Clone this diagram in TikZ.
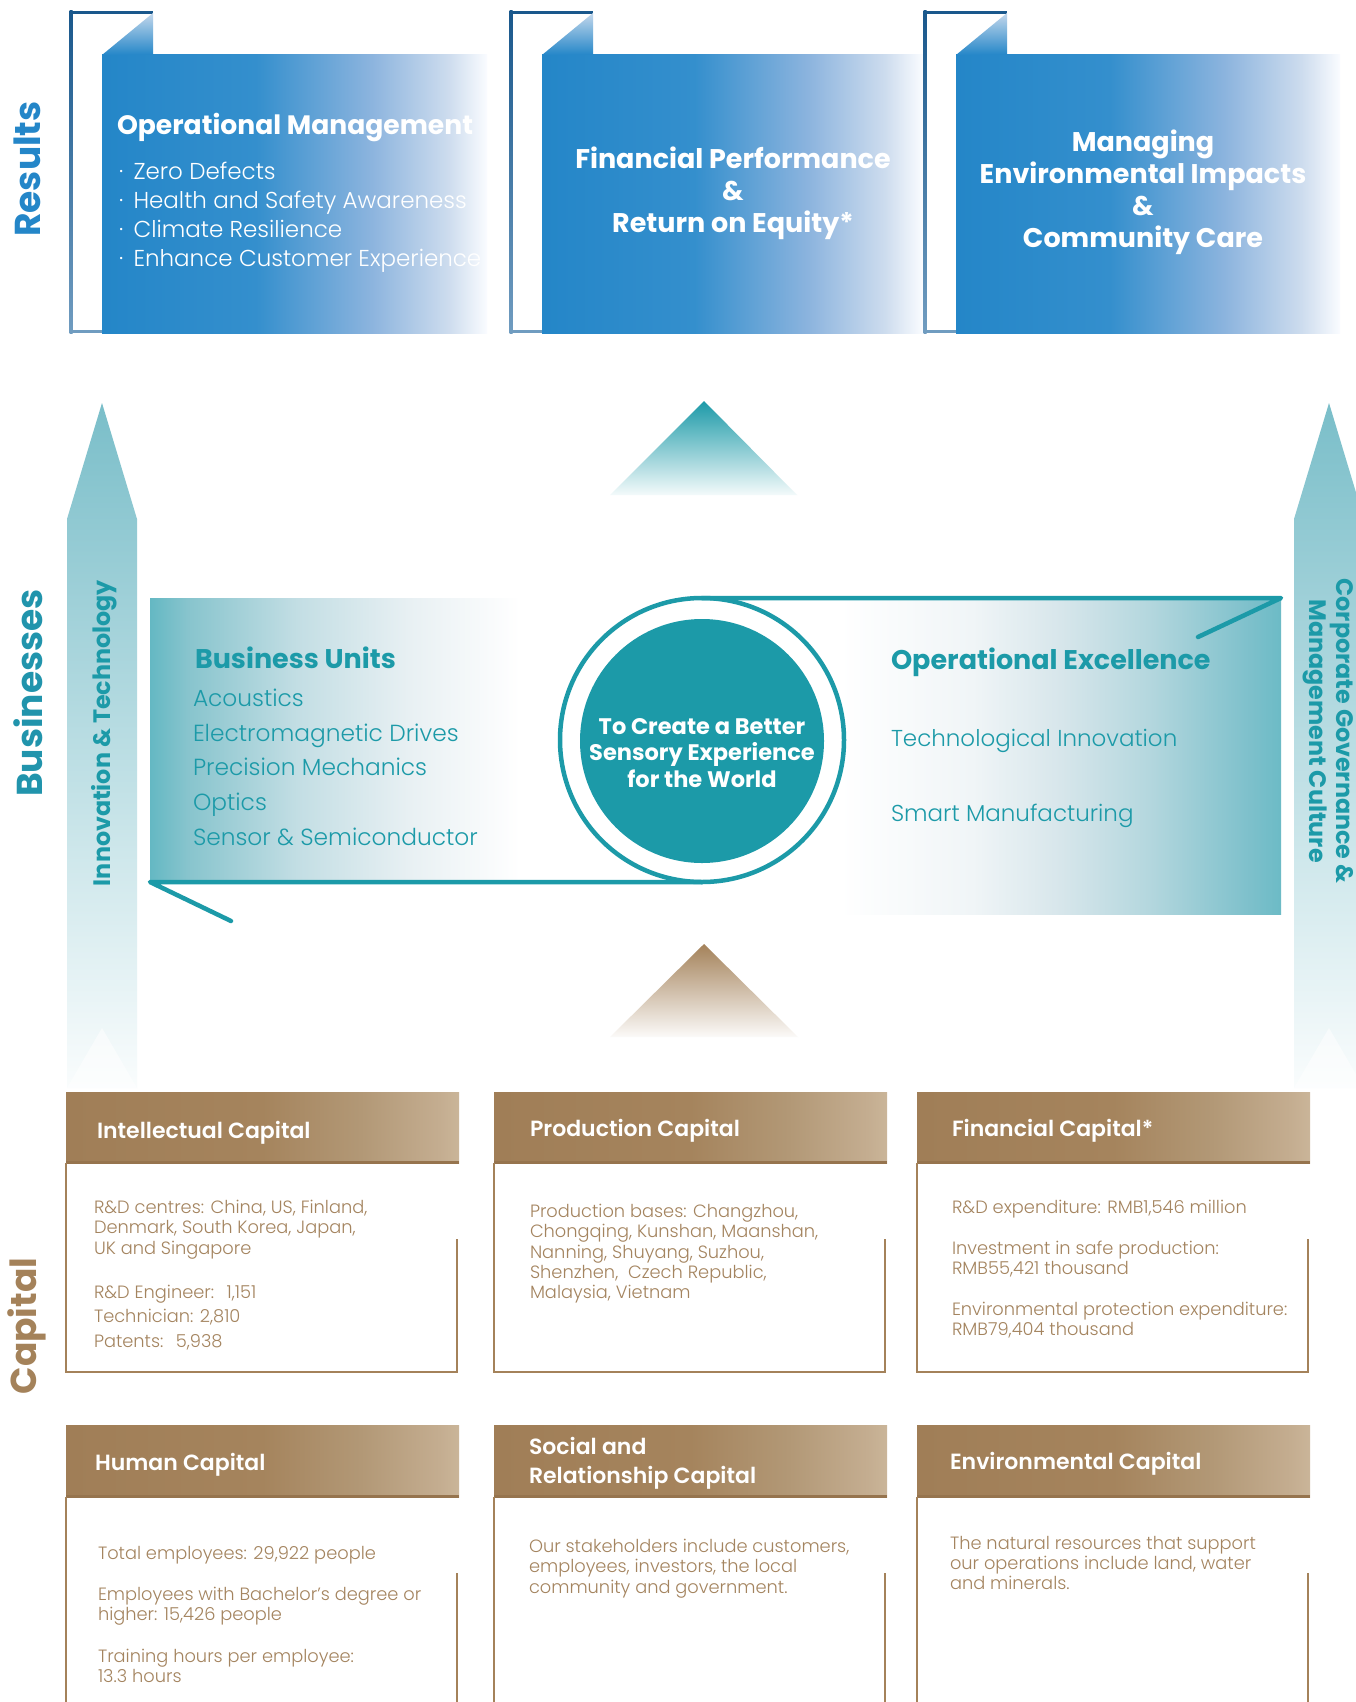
\documentclass[tikz,border=0pt]{standalone}
\usepackage{fontspec}
\setmainfont{Poppins}
\IfFontExistsTF{Poppins Light}{\newfontfamily\lightfont{Poppins Light}}{\newfontfamily\lightfont{Poppins}}
\IfFontExistsTF{Poppins SemiBold}{\newfontfamily\semifont{Poppins SemiBold}}{\newcommand\semifont{\bfseries}}

\definecolor{resblue}{RGB}{36,134,200}
\definecolor{framedark}{RGB}{26,88,140}
\definecolor{framelight}{RGB}{112,156,192}
\definecolor{cornerlight}{RGB}{196,216,236}
\definecolor{tealmain}{RGB}{28,154,168}
\definecolor{arrowteal}{RGB}{122,190,201}
\definecolor{brownmain}{RGB}{164,130,90}
\definecolor{brownline}{RGB}{150,116,78}
\definecolor{browntext}{RGB}{164,132,95}
\definecolor{busblue}{RGB}{33,148,172}

% blue result panels: solid on the left, fading to white on the right
\pgfdeclarehorizontalshading{bluefade}{100bp}{%
  color(0bp)=(resblue); color(25bp)=(resblue);
  color(45bp)=(rgb,255:red,52;green,143;blue,205);
  color(60bp)=(rgb,255:red,140;green,180;blue,222);
  color(70bp)=(rgb,255:red,205;green,220;blue,238);
  color(75bp)=(rgb,255:red,250;green,252;blue,255);
  color(100bp)=(rgb,255:red,250;green,252;blue,255)}
% brown capital headers
\pgfdeclarehorizontalshading{brownfade}{100bp}{%
  color(0bp)=(rgb,255:red,160;green,126;blue,87); color(25bp)=(rgb,255:red,160;green,126;blue,87);
  color(50bp)=(rgb,255:red,165;green,132;blue,93);
  color(62.5bp)=(rgb,255:red,178;green,152;blue,118);
  color(72.5bp)=(rgb,255:red,196;green,173;blue,144);
  color(75bp)=(rgb,255:red,202;green,181;blue,153);
  color(100bp)=(rgb,255:red,202;green,181;blue,153)}
% teal band, left half (teal to white) and right half (white to teal)
\pgfdeclarehorizontalshading{tealleft}{100bp}{%
  color(0bp)=(rgb,255:red,100;green,184;blue,195); color(25bp)=(rgb,255:red,100;green,184;blue,195);
  color(30bp)=(rgb,255:red,135;green,196;blue,205);
  color(45bp)=(rgb,255:red,195;green,222;blue,228);
  color(60bp)=(rgb,255:red,232;green,240;blue,243);
  color(75bp)=(white); color(100bp)=(white)}
\pgfdeclarehorizontalshading{tealright}{100bp}{%
  color(0bp)=(white); color(25bp)=(white);
  color(40bp)=(rgb,255:red,240;green,245;blue,247);
  color(50bp)=(rgb,255:red,215;green,230;blue,235);
  color(60bp)=(rgb,255:red,180;green,215;blue,222);
  color(71.5bp)=(rgb,255:red,125;green,192;blue,203);
  color(75bp)=(rgb,255:red,108;green,187;blue,198);
  color(100bp)=(rgb,255:red,108;green,187;blue,198)}

\tikzset{
  restitle/.style={text=white, font=\bfseries\fontsize{27}{32}\selectfont},
  resitem/.style={text=white, font=\lightfont\fontsize{23}{29}\selectfont, align=left, anchor=north west},
  sidelabel/.style={font=\bfseries\fontsize{36}{40}\selectfont},
  pillar/.style={text=tealmain, font=\bfseries\fontsize{23.8}{26.5}\selectfont, align=center},
  unithead/.style={text=tealmain, font=\bfseries\fontsize{27}{30}\selectfont, anchor=west},
  unititem/.style={text=tealmain, font=\lightfont\fontsize{23.3}{34.7}\selectfont, align=left, anchor=north west},
  unitline/.style={text=tealmain, font=\lightfont\fontsize{23}{26}\selectfont, anchor=west},
  caphead/.style={text=white, font=\semifont\fontsize{22}{29}\selectfont, anchor=west, align=left},
  capbody/.style={text=browntext, font=\lightfont\fontsize{17.8}{20.3}\selectfont, align=left, anchor=north west},
  capframe/.style={draw=brownmain, line width=2.6pt},
  band/.style={draw=tealmain, line width=4.5pt, line cap=round, line join=round},
  pillarshaft/.style={top color=arrowteal, bottom color=white!96!arrowteal},
}
\newcommand\resbullet{·\hspace{0.45em}}

\begin{document}
\begin{tikzpicture}[x=1pt,y=-1pt, every node/.style={inner sep=0pt, outer sep=0pt}]
\useasboundingbox (0,0) rectangle (1356,1702);
\fill[white] (0,0) rectangle (1356,1702);

% ---------------- Results ----------------
\foreach \fx/\bx/\bw in {71/102/487, 511/542/923, 925/956/1340}{
  \fill[framedark] (\fx-1.5,11) rectangle (\fx+82,14.5);
  \shade[top color=framedark, bottom color=framelight] (\fx-1.5,11) rectangle (\fx+1.5,333);
  \fill[framelight] (\fx-1.5,330) rectangle (\bx,333);
  \shade[shading=bluefade] (\bx,55) rectangle (\bw,333);
  \shade[top color=cornerlight, bottom color=resblue] (\bx,55) -- (\fx+82,13) -- (\fx+82,55) -- cycle;
}
\node[restitle, anchor=west, font=\bfseries\fontsize{26.6}{32}\selectfont] (opmgmt) at (117,128) {Operational Management};
\node[resitem] (opmgmtlist) at (119,162) {\resbullet Zero Defects\\\resbullet Health and Safety Awareness\\\resbullet Climate Resilience\\\resbullet Enhance Customer Experience};
\node[restitle, align=center] (finperf) at (733,193) {Financial Performance\\\&\\Return on Equity*};
\node[restitle, align=center] (envcare) at (1143,192) {Managing\\Environmental Impacts\\\&\\Community Care};

\node[sidelabel, rotate=90, text=resblue] (results) at (27,169) {Results};
\node[sidelabel, rotate=90, text=busblue] (businesses) at (28,693) {Businesses};
\node[sidelabel, rotate=90, text=brownmain] (capital) at (27,1326) {Capital};

% ---------------- pillars ----------------
\shade[pillarshaft] (67,519) -- (102,403) -- (137,519) -- (137,1088) -- (67,1088) -- cycle;
\shade[pillarshaft] (1294,519) -- (1329,403) -- (1364,519) -- (1364,1088) -- (1294,1088) -- cycle;
\fill[white, opacity=0.55] (67,1088) -- (102,1028) -- (137,1088) -- cycle;
\fill[white, opacity=0.55] (1294,1088) -- (1329,1028) -- (1364,1088) -- cycle;
\node[pillar, rotate=90] (innotech) at (104,733) {Innovation \& Technology};
\node[pillar, rotate=-90] (governance) at (1328,731) {Corporate Governance \&\\Management Culture};

% ---------------- flow triangles ----------------
\shade[top color=tealmain, middle color=arrowteal!80!white, bottom color=white!95!tealmain]
  (704,401) -- (797,495) -- (610,495) -- cycle;
\shade[top color=brownmain, middle color=brownmain!55!white, bottom color=white!96!brownmain]
  (704,944) -- (798,1037) -- (610,1037) -- cycle;

% ---------------- business band ----------------
\shade[shading=tealleft] (150,598) rectangle (520,882);
\shade[shading=tealright] (840,598) rectangle (1281,914);
\coordinate (bandTR) at (1281,598);
\coordinate (bandTRend) at (1198,637);
\coordinate (bandBL) at (150,882);
\coordinate (bandBLend) at (231,921);
\node[circle, draw=tealmain, line width=4.5pt, fill=white, minimum size=284pt] (ring) at (702,740) {};
\draw[band] (ring.north) -- (bandTR) -- (bandTRend);
\draw[band] (ring.south) -- (bandBL) -- (bandBLend);
\node[circle, fill=tealmain, minimum size=244pt] (core) at (702,741) {};
\node[text=white, align=center, font=\bfseries\fontsize{22.5}{26.5}\selectfont] (mission) at (702,753)
  {To Create a Better\\Sensory Experience\\for the World};

\node[unithead] (units) at (195,658) {Business Units};
\node[unititem] (unitlist) at (193,689) {Acoustics\\Electromagnetic Drives\\Precision Mechanics\\Optics\\Sensor \& Semiconductor};
\node[unithead] (opex) at (891,662) {Operational Excellence};
\node[unitline] (techinno) at (891,741) {Technological Innovation};
\node[unitline] (smartmfg) at (891,816) {Smart Manufacturing};

% ---------------- Capital ----------------
\foreach \cx/\cw in {66/459, 494/887, 917/1310}{
  \shade[shading=brownfade] (\cx,1092) rectangle (\cw,1163);
  \fill[brownline] (\cx,1161) rectangle (\cw,1164);
  \draw[capframe] (\cx,1163) -- (\cx,1372) -- (\cw-2,1372) -- (\cw-2,1239);
  \shade[shading=brownfade] (\cx,1425) rectangle (\cw,1497);
  \fill[brownline] (\cx,1495) rectangle (\cw,1498);
  \draw[capframe] (\cx,1497) -- (\cx,1710);
  \draw[capframe] (\cw-2,1573) -- (\cw-2,1710);
}

\node[caphead] (intelhead) at (97,1133) {Intellectual Capital};
\node[capbody] (intel1) at (94,1200) {R\&D centres: China, US, Finland,\\Denmark, South Korea, Japan,\\UK and Singapore};
\node[capbody, font=\lightfont\fontsize{17.8}{24.5}\selectfont] (intel2) at (94,1285) {R\&D Engineer:\hspace{0.7em}1,151\\Technician: 2,810\\Patents:\hspace{0.7em}5,938};

\node[caphead] (prodhead) at (530,1131) {Production Capital};
\node[capbody] (prod1) at (530,1204) {Production bases: Changzhou,\\Chongqing, Kunshan, Maanshan,\\Nanning, Shuyang, Suzhou,\\Shenzhen,\ \ Czech Republic,\\Malaysia, Vietnam};

\node[caphead] (finhead) at (952,1131) {Financial Capital*};
\node[capbody] (fin1) at (952,1200) {R\&D expenditure: RMB1,546 million};
\node[capbody] (fin2) at (952,1241) {Investment in safe production:\\RMB55,421 thousand};
\node[capbody] (fin3) at (952,1302) {Environmental protection expenditure:\\RMB79,404 thousand};

\node[caphead] (humanhead) at (95,1465) {Human Capital};
\node[capbody] (human1) at (98,1546) {Total employees: 29,922 people};
\node[capbody] (human2) at (98,1587) {Employees with Bachelor’s degree or\\higher: 15,426 people};
\node[capbody] (human3) at (98,1649) {Training hours per employee:\\13.3 hours};

\node[caphead] (socialhead) at (529,1463) {Social and\\Relationship Capital};
\node[capbody] (social1) at (529,1539) {Our stakeholders include customers,\\employees, investors, the local\\community and government.};

\node[caphead] (envhead) at (950,1464) {Environmental Capital};
\node[capbody] (env1) at (950,1536) {The natural resources that support\\our operations include land, water\\and minerals.};
\end{tikzpicture}
\end{document}
